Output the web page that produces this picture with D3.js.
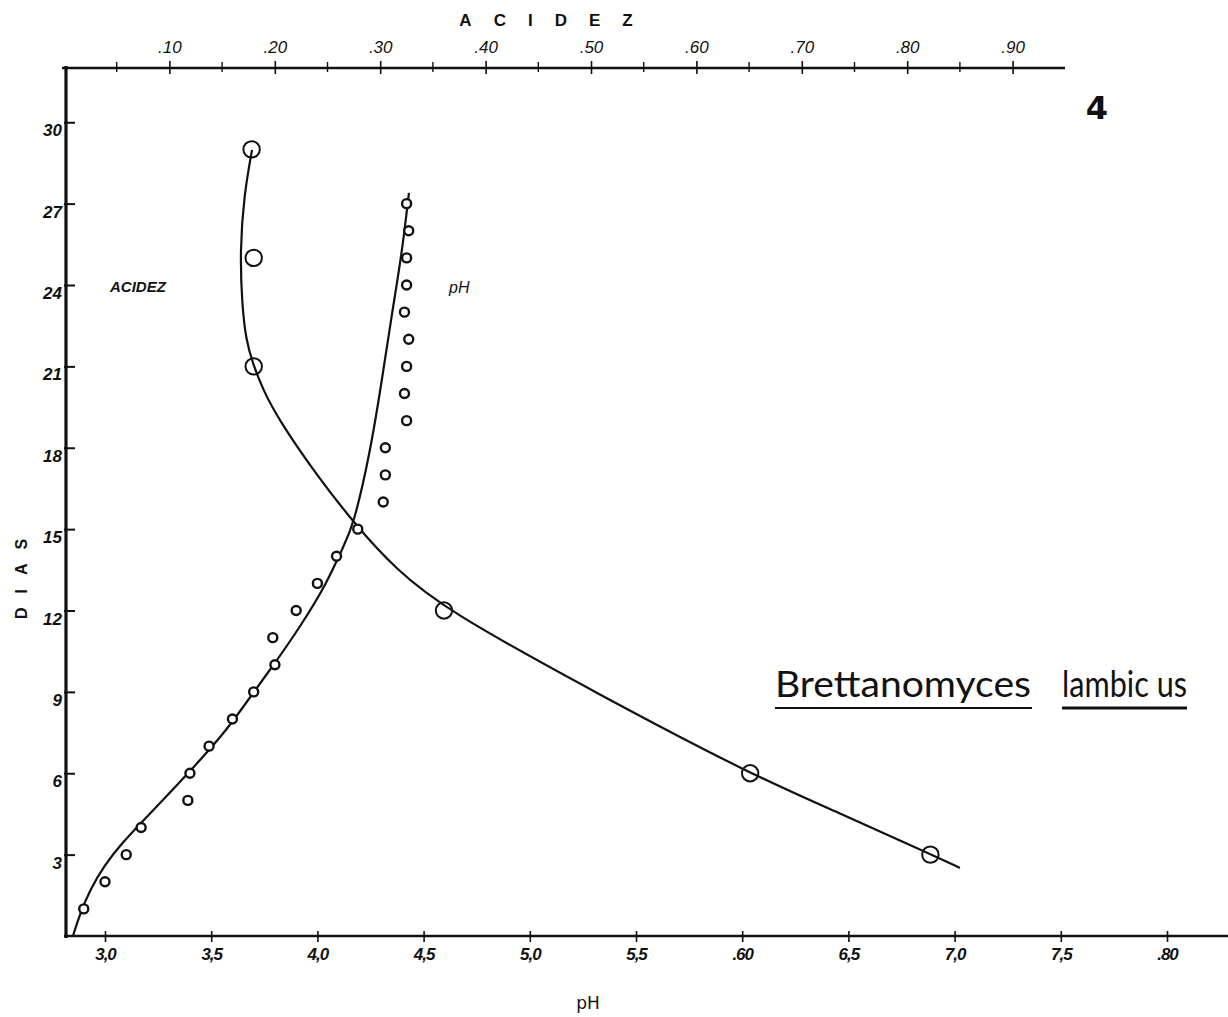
<!DOCTYPE html>
<html>
<head>
<meta charset="utf-8">
<script src="https://cdn.jsdelivr.net/npm/d3@7"></script>
<style>
  html, body { margin: 0; padding: 0; background: #fff; }
  svg { display: block; }
  text { fill: #111; }
</style>
</head>
<body>
<svg id="chart" width="1228" height="1017"></svg>
<script>
// ---------- data ----------
const dayTicks = [3, 6, 9, 12, 15, 18, 21, 24, 27, 30];
const dayTickLabels = ["3", "6", "9", "12", "15", "18", "21", "24", "27", "30"];

const pHTicks = [3.0, 3.5, 4.0, 4.5, 5.0, 5.5, 6.0, 6.5, 7.0, 7.5, 8.0];
const pHTickLabels = ["3,0", "3,5", "4,0", "4,5", "5,0", "5,5", ".60", "6,5", "7,0", "7,5", ".80"];

const acidMajorTicks = [0.10, 0.20, 0.30, 0.40, 0.50, 0.60, 0.70, 0.80, 0.90];
const acidMajorLabels = [".10", ".20", ".30", ".40", ".50", ".60", ".70", ".80", ".90"];
const acidMinorTicks = [0.05, 0.15, 0.25, 0.35, 0.45, 0.55, 0.65, 0.75, 0.85];

// measured acidity points (day, acidity)
const acidDays = [3, 6, 12, 21, 25, 29];
const acidValues = [0.822, 0.651, 0.3605, 0.180, 0.180, 0.178];

// measured pH points (day, pH)
const pHDays = [1, 2, 3, 4, 5, 6, 7, 8, 9, 10, 11, 12, 13, 14, 15, 16, 17, 18, 19, 20, 21, 22, 23, 24, 25, 26, 27];
const pHValues = [2.90, 3.00, 3.10, 3.17, 3.39, 3.40, 3.49, 3.60, 3.70, 3.80, 3.79, 3.90, 4.00, 4.09, 4.19,
                  4.31, 4.32, 4.32, 4.42, 4.41, 4.42, 4.43, 4.41, 4.42, 4.42, 4.43, 4.42];

// hand-drawn fitted curves
const acidCurveAcid = [0.850, 0.8216, 0.736, 0.651, 0.5085, 0.3605, 0.314, 0.2789, 0.2381, 0.2040, 0.1888, 0.1793, 0.1727, 0.1689, 0.1670, 0.1708, 0.1784];
const acidCurveDay  = [2.51, 3.02, 4.53, 5.97, 8.88, 12.05, 13.56, 15.04, 17.07, 19.02, 20.13, 21.09, 21.97, 23.26, 25.29, 27.32, 28.98];

const pHCurvePH  = [2.849, 2.882, 2.929, 2.995, 3.08, 3.174, 3.282, 3.414, 3.574, 3.697, 3.80, 3.918, 4.045, 4.12, 4.168, 4.248, 4.304, 4.351, 4.398, 4.431];
const pHCurveDay = [0, 0.81, 1.70, 2.58, 3.43, 4.2, 5.09, 6.19, 7.59, 8.96, 10.06, 11.39, 13.01, 14.34, 15.08, 17.8, 20.5, 22.96, 25.17, 27.4];

// ---------- scales ----------
const svg = d3.select("#chart");
const y = d3.scaleLinear().domain([0, 32]).range([936, 68]);
const xPH = d3.scaleLinear().domain([3, 8]).range([105, 1167]);
const xAcid = d3.scaleLinear().domain([0, 0.9]).range([64, 1012.6]);

const fontTick = "'Liberation Sans', Arial, sans-serif";

// ---------- axes ----------
// left axis (DIAS)
const yAxis = d3.axisLeft(y).tickValues(dayTicks).tickSize(0).tickFormat((d, i) => dayTickLabels[i]);
const gy = svg.append("g").attr("transform", "translate(66,0)").call(yAxis);
gy.attr("font-size", null);
gy.select(".domain").remove();
gy.selectAll(".tick text")
  .attr("x", -4).attr("dy", "0.8em")
  .style("font-family", fontTick).style("font-size", "17px")
  .style("font-style", "italic").style("font-weight", "bold");
gy.selectAll(".tick").append("line")
  .attr("x1", -2).attr("x2", 9).attr("y1", 0).attr("y2", 0)
  .attr("stroke", "#111").attr("stroke-width", 2);
svg.append("line").attr("x1", 66).attr("x2", 66).attr("y1", 66).attr("y2", 938)
  .attr("stroke", "#111").attr("stroke-width", 3.2);

// bottom axis (pH)
const xAxis = d3.axisBottom(xPH).tickValues(pHTicks).tickSize(0).tickFormat((d, i) => pHTickLabels[i]);
const gx = svg.append("g").attr("transform", "translate(0,936)").call(xAxis);
gx.attr("font-size", null);
gx.select(".domain").remove();
gx.selectAll(".tick text")
  .attr("y", 12).attr("dy", "0.71em")
  .style("font-family", fontTick).style("font-size", "17px")
  .style("font-style", "italic").style("font-weight", "bold")
  .style("letter-spacing", "-1px");
gx.selectAll(".tick").append("line")
  .attr("x1", 0).attr("x2", 0).attr("y1", -5).attr("y2", 6)
  .attr("stroke", "#111").attr("stroke-width", 1.6);
svg.append("line").attr("x1", 64).attr("x2", 1228).attr("y1", 936).attr("y2", 936)
  .attr("stroke", "#111").attr("stroke-width", 2.6);

// top axis (ACIDEZ)
const xAxisTop = d3.axisTop(xAcid).tickValues(acidMajorTicks).tickSize(0).tickFormat((d, i) => acidMajorLabels[i]);
const gt = svg.append("g").attr("transform", "translate(0,68)").call(xAxisTop);
gt.attr("font-size", null);
gt.select(".domain").remove();
gt.selectAll(".tick text")
  .attr("y", -15)
  .style("font-family", fontTick).style("font-size", "17px")
  .style("font-style", "italic");
gt.selectAll(".tick").append("line")
  .attr("x1", 0).attr("x2", 0).attr("y1", -7).attr("y2", 6)
  .attr("stroke", "#111").attr("stroke-width", 1.6);
svg.append("g").selectAll("line").data(acidMinorTicks).join("line")
  .attr("x1", d => xAcid(d)).attr("x2", d => xAcid(d))
  .attr("y1", 62).attr("y2", 72)
  .attr("stroke", "#111").attr("stroke-width", 1.4);
svg.append("line").attr("x1", 62).attr("x2", 1065).attr("y1", 68).attr("y2", 68)
  .attr("stroke", "#111").attr("stroke-width", 2.6);

// ---------- curves ----------
const acidLine = d3.line().curve(d3.curveBasis)
  .x(d => xAcid(d[0])).y(d => y(d[1]));
svg.append("path")
  .datum(acidCurveAcid.map((a, i) => [a, acidCurveDay[i]]))
  .attr("d", acidLine).attr("fill", "none").attr("stroke", "#111").attr("stroke-width", 2.2);

const pHLine = d3.line().curve(d3.curveBasis)
  .x(d => xPH(d[0])).y(d => y(d[1]));
svg.append("path")
  .datum(pHCurvePH.map((p, i) => [p, pHCurveDay[i]]))
  .attr("d", pHLine).attr("fill", "none").attr("stroke", "#111").attr("stroke-width", 2.2);

// ---------- points ----------
svg.append("g").selectAll("circle")
  .data(pHDays.map((d, i) => [pHValues[i], d]))
  .join("circle")
  .attr("cx", d => xPH(d[0])).attr("cy", d => y(d[1]))
  .attr("r", 4.5).attr("fill", "#fff").attr("stroke", "#111").attr("stroke-width", 2.4);

svg.append("g").selectAll("circle")
  .data(acidDays.map((d, i) => [acidValues[i], d]))
  .join("circle")
  .attr("cx", d => xAcid(d[0])).attr("cy", d => y(d[1]))
  .attr("r", 8.2).attr("fill", "none").attr("stroke", "#111").attr("stroke-width", 2);

// ---------- text ----------
svg.append("text").attr("x", 557).attr("y", 26).attr("text-anchor", "middle")
  .style("font-family", fontTick).style("font-size", "17px").style("font-weight", "bold")
  .style("letter-spacing", "22px")
  .text("ACIDEZ");

svg.append("text")
  .attr("transform", "translate(27,572) rotate(-90)")
  .attr("text-anchor", "middle")
  .style("font-family", fontTick).style("font-size", "16px").style("font-weight", "bold")
  .style("letter-spacing", "14px")
  .text("DIAS");

svg.append("text").attr("x", 588).attr("y", 1009).attr("text-anchor", "middle")
  .style("font-family", "'DejaVu Sans', sans-serif").style("font-size", "17px")
  .text("pH");

svg.append("text").attr("x", 110).attr("y", 292)
  .style("font-family", fontTick).style("font-size", "15px")
  .style("font-style", "italic").style("font-weight", "bold")
  .text("ACIDEZ");

svg.append("text").attr("x", 449).attr("y", 293)
  .style("font-family", fontTick).style("font-size", "16px")
  .style("font-style", "italic")
  .text("pH");

svg.append("text").attr("x", 1097).attr("y", 119).attr("text-anchor", "middle")
  .style("font-family", "'DejaVu Sans', sans-serif").style("font-size", "32px").style("font-weight", "bold")
  .text("4");

svg.append("text").attr("x", 775).attr("y", 697)
  .style("font-family", "Lato, 'Open Sans', sans-serif").style("font-size", "36px")
  .attr("textLength", 256).attr("lengthAdjust", "spacingAndGlyphs")
  .text("Brettanomyces");
svg.append("text").attr("x", 1062).attr("y", 697)
  .style("font-family", "Lato, 'Open Sans', sans-serif").style("font-size", "36px")
  .attr("textLength", 125).attr("lengthAdjust", "spacingAndGlyphs")
  .text("lambic us");
svg.append("line").attr("x1", 775).attr("x2", 1032).attr("y1", 708).attr("y2", 708)
  .attr("stroke", "#111").attr("stroke-width", 2);
svg.append("line").attr("x1", 1062).attr("x2", 1187).attr("y1", 708).attr("y2", 708)
  .attr("stroke", "#111").attr("stroke-width", 3);
</script>
</body>
</html>
